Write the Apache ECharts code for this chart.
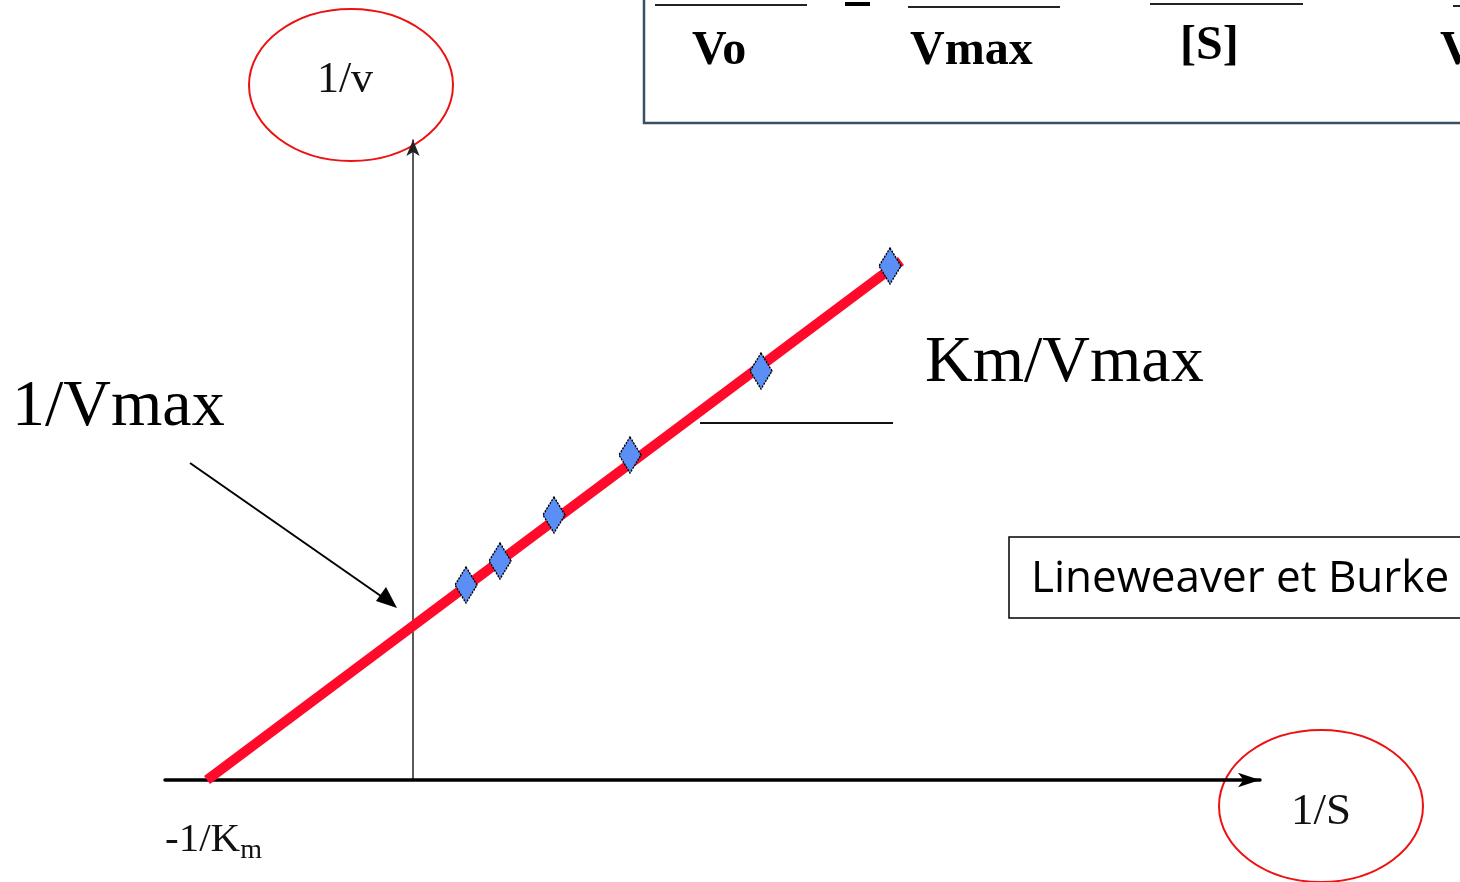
<!DOCTYPE html>
<html>
<head>
<meta charset="utf-8">
<script src="https://cdn.jsdelivr.net/npm/echarts@6/dist/echarts.min.js"></script>
<style>
  html, body { margin: 0; padding: 0; background: #fff; }
  #chart { width: 1460px; height: 882px; }
</style>
</head>
<body>
<div id="chart"></div>
<script>
// measured points (1/S, 1/v)
const invS = [0.53, 0.87, 1.41, 2.17, 3.48, 4.77];
const invV = [1.95, 2.19, 2.65, 3.25, 4.09, 5.14];
// fitted line end points: from -1/Km up past last point
const fitX = [-2.06, 4.88];
const fitY = [0, 5.19];

const points = invS.map((x, i) => [x, invV[i]]);
const fitLine = fitX.map((x, i) => [x, fitY[i]]);

const chart = echarts.init(document.getElementById('chart'));
const serif = '"Liberation Serif", "DejaVu Serif", serif';

chart.setOption({
  animation: false,
  grid: { left: 165, right: 200, top: 140, bottom: 102, containLabel: false },
  xAxis: {
    type: 'value',
    min: -2.48,
    max: 8.47,
    axisLine: {
      onZero: true,
      symbol: ['none', 'arrow'],
      symbolSize: [11, 22],
      lineStyle: { color: '#000', width: 3.5 },
    },
    axisTick: { show: false },
    axisLabel: { show: false },
    splitLine: { show: false },
  },
  yAxis: {
    type: 'value',
    min: 0,
    max: 6.4,
    axisLine: {
      show: true,
      onZero: true,
      symbol: ['none', 'arrow'],
      symbolSize: [10, 16],
      lineStyle: { color: '#222', width: 1.5 },
    },
    axisTick: { show: false },
    axisLabel: { show: false },
    splitLine: { show: false },
  },
  series: [
    {
      type: 'line',
      data: fitLine,
      symbol: 'none',
      lineStyle: { color: '#ff0a2a', width: 10 },
      z: 2,
    },
    {
      type: 'scatter',
      data: points,
      symbol: 'diamond',
      symbolSize: [22, 36],
      itemStyle: {
        color: '#5b8ff5',
        opacity: 1,
        borderColor: '#000',
        borderWidth: 1.5,
        borderType: [2, 1],
      },
      z: 3,
    },
  ],
  graphic: [
    // equation box at top (clipped)
    {
      type: 'rect',
      shape: { x: 644, y: -10, width: 830, height: 133 },
      style: { fill: 'none', stroke: '#3a4f66', lineWidth: 2.5 },
    },
    { type: 'line', shape: { x1: 655, y1: 5, x2: 807, y2: 5 }, style: { stroke: '#222', lineWidth: 2 } },
    { type: 'line', shape: { x1: 845, y1: 4, x2: 870, y2: 4 }, style: { stroke: '#000', lineWidth: 4 } },
    { type: 'line', shape: { x1: 908, y1: 7, x2: 1060, y2: 7 }, style: { stroke: '#222', lineWidth: 2 } },
    { type: 'line', shape: { x1: 1150, y1: 4, x2: 1303, y2: 4 }, style: { stroke: '#222', lineWidth: 2 } },
    { type: 'line', shape: { x1: 1453, y1: 6, x2: 1462, y2: 6 }, style: { stroke: '#222', lineWidth: 2 } },
    { type: 'text', style: { x: 692, y: 52, text: 'Vo', font: 'bold 48px ' + serif, fill: '#000', textVerticalAlign: 'middle' } },
    { type: 'text', style: { x: 910, y: 52, text: 'Vmax', font: 'bold 48px ' + serif, fill: '#000', textVerticalAlign: 'middle' } },
    { type: 'text', style: { x: 1180, y: 47, text: '[S]', font: 'bold 48px ' + serif, fill: '#000', textVerticalAlign: 'middle' } },
    { type: 'text', style: { x: 1440, y: 52, text: 'V', font: 'bold 48px ' + serif, fill: '#000', textVerticalAlign: 'middle' } },

    // axis name ellipses
    {
      type: 'ellipse',
      shape: { cx: 351, cy: 85, rx: 102, ry: 76 },
      style: { fill: 'none', stroke: '#ee1111', lineWidth: 2 },
    },
    { type: 'text', style: { x: 345, y: 80, text: '1/v', font: '44px ' + serif, fill: '#111', textAlign: 'center', textVerticalAlign: 'middle' } },
    {
      type: 'ellipse',
      shape: { cx: 1321, cy: 806, rx: 102, ry: 76 },
      style: { fill: 'none', stroke: '#ee1111', lineWidth: 2 },
    },
    { type: 'text', style: { x: 1321, y: 812, text: '1/S', font: '45px ' + serif, fill: '#111', textAlign: 'center', textVerticalAlign: 'middle' } },

    // -1/Km label
    {
      type: 'text',
      style: {
        x: 165, y: 840,
        text: '{a|-1/K}{b|m}',
        fill: '#111',
        textVerticalAlign: 'middle',
        rich: {
          a: { font: '41px ' + serif, fill: '#111' },
          b: { font: '28px ' + serif, fill: '#111', padding: [22, 0, 0, 0] },
        },
      },
    },

    // 1/Vmax label with arrow
    { type: 'text', style: { x: 12, y: 408, text: '1/Vmax', font: '66px ' + serif, fill: '#000', textVerticalAlign: 'middle' } },
    { type: 'line', shape: { x1: 190, y1: 463, x2: 388, y2: 601 }, style: { stroke: '#000', lineWidth: 2 } },
    {
      type: 'polygon',
      shape: { points: [[397, 608], [376, 601], [386, 587]] },
      style: { fill: '#000' },
    },

    // Km/Vmax slope label
    { type: 'text', style: { x: 925, y: 364, text: 'Km/Vmax', font: '66px ' + serif, fill: '#000', textVerticalAlign: 'middle' } },
    { type: 'line', shape: { x1: 700, y1: 423, x2: 893, y2: 423 }, style: { stroke: '#111', lineWidth: 2 } },

    // caption box
    {
      type: 'rect',
      shape: { x: 1009, y: 537, width: 470, height: 81 },
      style: { fill: 'none', stroke: '#000', lineWidth: 1.5 },
    },
    { type: 'text', style: { x: 1031, y: 579, text: 'Lineweaver et Burke', font: '44px "Open Sans", "Liberation Sans", sans-serif', fill: '#000', textVerticalAlign: 'middle' } },
  ],
});
</script>
</body>
</html>
